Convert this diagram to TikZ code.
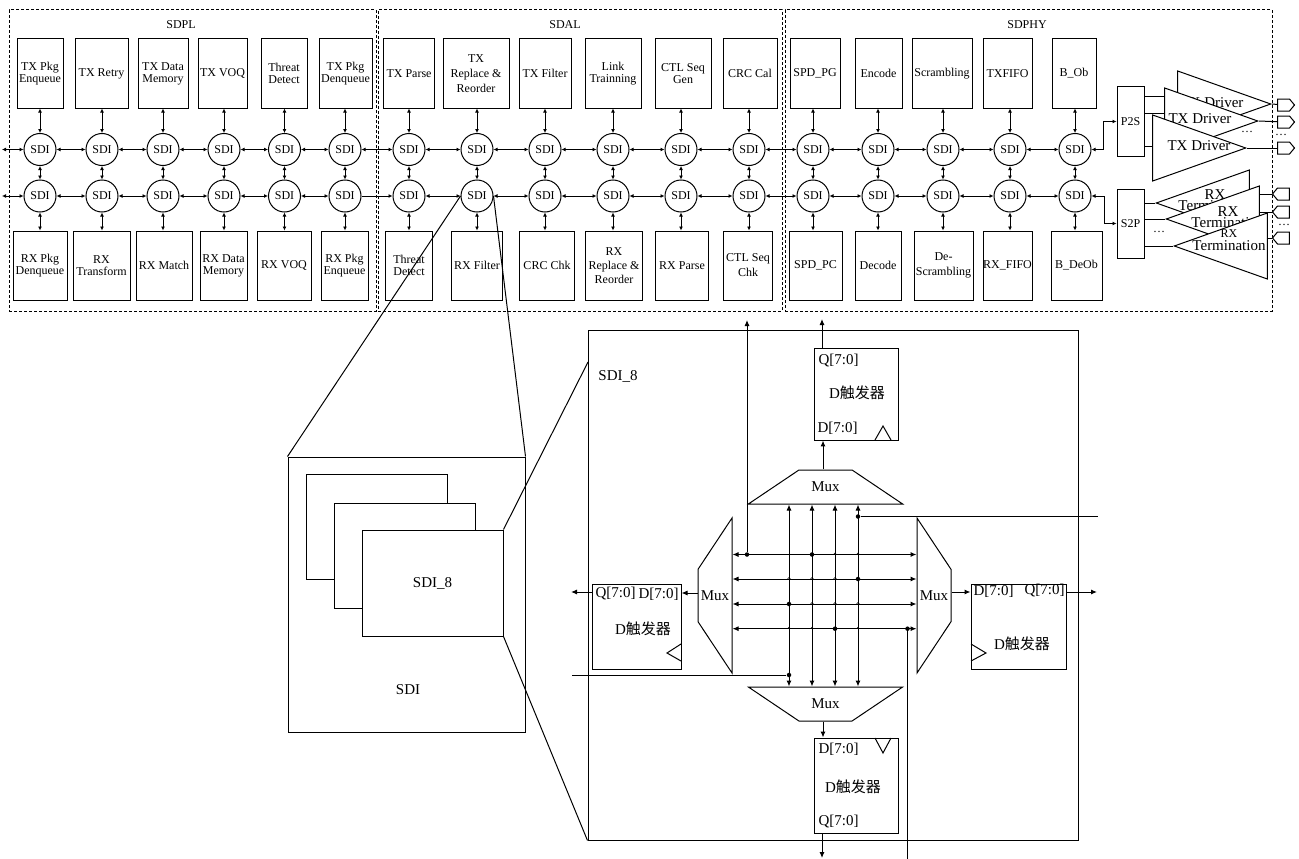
\documentclass[tikz,border=0pt]{standalone}
\usepackage{fontspec}
\setmainfont{Liberation Serif}
\newfontfamily\cjk{Noto Sans CJK SC}
\usetikzlibrary{arrows.meta,shapes.geometric,shapes.symbols}
\tikzset{
  box/.style={draw, align=center, font=\fontsize{12}{12}\selectfont, inner sep=0pt, minimum height=69pt, fill=white},
  sdi/.style={draw, circle, font=\fontsize{12}{12}\selectfont, inner sep=0pt, minimum size=32pt, fill=white},
  frame/.style={draw, densely dashed, inner sep=0pt, minimum height=301pt},
  title/.style={font=\fontsize{12}{12}\selectfont, inner sep=0pt},
  lbl/.style={font=\fontsize{15}{11}\selectfont, inner sep=0pt},
  tri/.style={draw, fill=white, isosceles triangle, isosceles triangle stretches, inner sep=0pt, minimum width=66pt, minimum height=93pt, anchor=apex},
  port/.style={draw, fill=white, signal, signal pointer angle=100, inner sep=0pt, minimum width=17pt, minimum height=12pt},
  mux/.style={draw, trapezium, trapezium stretches=true, minimum width=155pt, minimum height=34pt, inner sep=0pt, font=\fontsize{15}{15}\selectfont},
  muxh/.style={mux, trapezium left angle=20.3, trapezium right angle=20.3},
  muxv/.style={mux, trapezium left angle=71, trapezium right angle=71},
  flop/.style={draw, inner sep=0pt},
  dotmark/.style={fill, circle, inner sep=0pt, minimum size=4.5pt},
  arr/.style={{Latex[length=4pt,width=4pt]}-{Latex[length=4pt,width=4pt]}},
  arrs/.style={-{Latex[length=4pt,width=4pt]}},
  arrb/.style={-{Latex[length=6pt,width=5pt]}},
  arrd/.style={{Latex[length=6pt,width=5pt]}-{Latex[length=6pt,width=5pt]}}
}
\begin{document}
\begin{tikzpicture}[x=1pt, y=-1pt, line width=1pt]
\useasboundingbox (0,0) rectangle (1299,859);
% layer frames
\node[frame, minimum width=367pt] (sdpl) at (192.5,160.5) {};
\node[frame, minimum width=404pt] (sdal) at (580,160.5) {};
\node[frame, minimum width=487pt] (sdphy) at (1028.5,160.5) {};
\node[title] (sdpltext) at (181,25) {SDPL};
\node[title] (sdaltext) at (565,25) {SDAL};
\node[title] (sdphytext) at (1027,25) {SDPHY};
% tx boxes
\node[box, minimum width=46pt] (t1) at (40,73.5) {TX Pkg\\Enqueue};
\node[box, minimum width=53pt] (t2) at (101.5,73.5) {TX Retry};
\node[box, minimum width=50pt] (t3) at (163,73.5) {TX Data\\Memory};
\node[box, minimum width=49pt] (t4) at (222.5,73.5) {TX VOQ};
\node[box, minimum width=46pt] (t5) at (284,73.5) {Threat\\Detect};
\node[box, minimum width=53pt] (t6) at (345.5,73.5) {TX Pkg\\Denqueue};
\node[box, minimum width=51pt] (t7) at (409,73.5) {TX Parse};
\node[box, minimum width=66pt, font=\fontsize{12}{15}\selectfont] (t8) at (476,73.5) {TX\\Replace \&\\Reorder};
\node[box, minimum width=52pt] (t9) at (545,73.5) {TX Filter};
\node[box, minimum width=56pt] (t10) at (613,73.5) {Link\\Trainning};
\node[box, minimum width=56pt] (t11) at (683,73.5) {CTL Seq\\Gen};
\node[box, minimum width=54pt] (t12) at (750,73.5) {CRC Cal};
\node[box, minimum width=50pt] (t13) at (815,73.5) {SPD\_PG};
\node[box, minimum width=47pt] (t14) at (878.5,73.5) {Encode};
\node[box, minimum width=60pt] (t15) at (942,73.5) {Scrambling};
\node[box, minimum width=49pt] (t16) at (1007.5,73.5) {TXFIFO};
\node[box, minimum width=44pt] (t17) at (1074,73.5) {B\_Ob};
% rx boxes
\node[box, minimum width=54pt] (r1) at (40,265.5) {RX Pkg\\Denqueue};
\node[box, minimum width=57pt] (r2) at (101.5,265.5) {RX\\Transform};
\node[box, minimum width=56pt] (r3) at (164,265.5) {RX Match};
\node[box, minimum width=47pt] (r4) at (223.5,265.5) {RX Data\\Memory};
\node[box, minimum width=54pt] (r5) at (284,265.5) {RX VOQ};
\node[box, minimum width=47pt] (r6) at (344.5,265.5) {RX Pkg\\Enqueue};
\node[box, minimum width=47pt] (r7) at (409,265.5) {Threat\\Detect};
\node[box, minimum width=51pt] (r8) at (477,265.5) {RX Filter};
\node[box, minimum width=55pt] (r9) at (547,265.5) {CRC Chk};
\node[box, minimum width=57pt, font=\fontsize{12}{14}\selectfont] (r10) at (614,265.5) {RX\\Replace \&\\Reorder};
\node[box, minimum width=53pt] (r11) at (682,265.5) {RX Parse};
\node[box, minimum width=49pt, font=\fontsize{12}{15}\selectfont] (r12) at (748,265.5) {CTL Seq\\Chk};
\node[box, minimum width=53pt] (r13) at (815.5,265.5) {SPD\_PC};
\node[box, minimum width=46pt] (r14) at (878,265.5) {Decode};
\node[box, minimum width=59pt, font=\fontsize{12}{15}\selectfont] (r15) at (943.5,265.5) {De-\\Scrambling};
\node[box, minimum width=49pt] (r16) at (1007.5,265.5) {RX\_FIFO};
\node[box, minimum width=51pt] (r17) at (1076.5,265.5) {B\_DeOb};
% sdi grid
\foreach \cx [count=\i] in {40,102,163,224,284.5,345,409,477,545,613,681,749,813,878,943,1010,1075} {
  \node[sdi] (a\i) at (\cx,149.5) {SDI};
  \node[sdi] (b\i) at (\cx,196) {SDI};
  \draw[arr] (t\i.south -| a\i) -- (a\i);
  \draw[arr] (a\i) -- (b\i);
  \draw[arr] (b\i) -- (r\i.north -| b\i);
}
\foreach \i [evaluate=\i as \j using int(\i+1)] in {1,...,16} {
  \draw[arr] (a\i) -- (a\j);
}
\foreach \i [evaluate=\i as \j using int(\i+1)] in {1,2,3,4,5,7,8,9,10,11,12,13,14,15,16} {
  \draw[arr] (b\i) -- (b\j);
}
\draw[arrs] (b6) -- (b7);
\coordinate (ina) at (2,149.5);
\coordinate (inb) at (2,196);
\draw[arr] (ina) -- (a1);
\draw[arr] (inb) -- (b1);
% serdes
\node[box, minimum width=27pt] (p2s) at (1130.5,121.5) {P2S};
\node[box, minimum width=27pt] (s2p) at (1130.5,223.5) {S2P};
\draw[arr] (a17.east) -- ++(12,0) |- (p2s.west);
\draw[arr] (b17.east) -- ++(13,0) |- (s2p.west);
\node[tri] (txc) at (1272,104) {};
\node[lbl] (txctext) at (1212,103) {TX Driver};
\node[tri] (txb) at (1259,121) {};
\node[lbl] (txbtext) at (1200,119) {TX Driver};
\node[tri] (txa) at (1247,148) {};
\node[lbl] (txatext) at (1199,146) {TX Driver};
\node[tri, shape border rotate=180] (rxc) at (1155,203) {};
\node[lbl, align=center] (rxctext) at (1215,200.5) {RX\\Termination};
\node[tri, shape border rotate=180] (rxb) at (1165,219) {};
\node[lbl, align=center] (rxbtext) at (1228,217.5) {RX\\Termination};
\node[tri, shape border rotate=180] (rxa) at (1173,246) {};
\node[lbl, align=center, font=\fontsize{15}{13}\selectfont] (rxatext) at (1229,240.5) {{\fontsize{12}{13}\selectfont RX}\\Termination};
\node[title] (txdots) at (1247,132) {\dots};
\node[title] (rxdots) at (1159,232) {\dots};
\node[title] (txpdots) at (1281,135) {\dots};
\node[title] (rxpdots) at (1284,225) {\dots};
\draw (p2s.east |- txc.apex) ++(0,-8) -- (txb.west |- 0,96);
\draw (p2s.east |- 0,113) -- (txb.west |- 0,113);
\draw (p2s.east |- 0,146) -- (txa.west |- 0,146);
\draw (s2p.east |- rxc.apex) -- (rxc.apex);
\draw (s2p.east |- rxb.apex) -- (rxb.apex);
\draw (s2p.east |- rxa.apex) -- (rxa.apex);
\node[port, signal to=east] (oc) at (1283.5,105) {};
\node[port, signal to=east] (ob) at (1283.5,122) {};
\node[port, signal to=east] (oa) at (1283.5,148) {};
\node[port, signal to=west] (ic) at (1283.5,194) {};
\node[port, signal to=west] (ib) at (1283.5,212) {};
\node[port, signal to=west] (ia) at (1283.5,238) {};
\draw (txc.apex) -- (oc);
\draw (txb.apex) -- (ob);
\draw (txa.apex) -- (oa);
\draw (rxb.east |- ic) -- (ic);
\draw (rxb.east |- ib) -- (ib);
\draw (rxa.east |- ia) -- (ia);
% zoom of one sdi
\node[draw, minimum width=490pt, minimum height=510pt, inner sep=0pt] (big) at (833,585) {};
\node[lbl] (bigtext) at (618,376) {SDI\_8};
\node[draw, minimum width=237pt, minimum height=275pt, inner sep=0pt] (outer) at (406.5,594.5) {};
\node[lbl] (outertext) at (408,690) {SDI};
\node[draw, fill=white, minimum width=141pt, minimum height=105pt, inner sep=0pt] (pc) at (376.5,526.5) {};
\node[draw, fill=white, minimum width=141pt, minimum height=105pt, inner sep=0pt] (pb) at (404.5,555.5) {};
\node[draw, fill=white, minimum width=141pt, minimum height=106pt, inner sep=0pt, font=\fontsize{15}{15}\selectfont] (pa) at (432.5,583) {SDI\_8};
\coordinate (zoomtop) at (588,362);
\draw (b8.west) -- (outer.north west);
\draw (b8.east) -- (outer.north east);
\draw (pa.north east) -- (zoomtop);
\draw (pa.south east) -- (big.south west);
% mux
\node[muxh] (muxt) at (825.5,487) {Mux};
\node[muxh, shape border rotate=180] (muxb) at (825.5,704) {Mux};
\node[muxv, shape border rotate=90] (muxl) at (715,595.5) {Mux};
\node[muxv, shape border rotate=270] (muxr) at (934,595.5) {Mux};
% flops
\node[flop, minimum width=84pt, minimum height=92pt] (ft) at (856,394) {};
\node[lbl, anchor=west] (ftq) at (818,361) {Q[7:0]};
\node[lbl] (ftc) at (857,393) {D{\cjk 触发器}};
\node[lbl, anchor=west] (ftd) at (817,428) {D[7:0]};
\draw (875,440) -- (883,426) -- (891,440);
\node[flop, minimum width=84pt, minimum height=95pt] (fb) at (856,785.5) {};
\node[lbl, anchor=west] (fbd) at (818,749) {D[7:0]};
\node[lbl] (fbc) at (853,787) {D{\cjk 触发器}};
\node[lbl, anchor=west] (fbq) at (818,822) {Q[7:0]};
\draw (875,738) -- (883,753) -- (891,738);
\node[flop, minimum width=89pt, minimum height=85pt] (fl) at (636.5,626.5) {};
\node[lbl, anchor=west] (flq) at (595,594) {Q[7:0]};
\node[lbl, anchor=east] (fld) at (679,594) {D[7:0]};
\node[lbl] (flc) at (643,629) {D{\cjk 触发器}};
\draw (681,644) -- (667,653) -- (681,661);
\node[flop, minimum width=95pt, minimum height=85pt] (fr) at (1018.5,626.5) {};
\node[lbl, anchor=west] (frd) at (973,591) {D[7:0]};
\node[lbl, anchor=east] (frq) at (1065,591) {Q[7:0]};
\node[lbl] (frc) at (1022,644) {D{\cjk 触发器}};
\draw (971,644) -- (986,653) -- (971,661);
\coordinate (ftout) at (822,319);
\coordinate (fbout) at (822,858);
\coordinate (flout) at (571,592);
\coordinate (frout) at (1097,592);
\draw[arrb] (muxt.north) ++(-2.5,0) -- ++(0,-29);
\draw[arrb] (ft.north) ++(-34,0) -- (ftout);
\draw[arrb] (muxb.south) ++(-2.5,0) -- ++(0,16);
\draw[arrb] (fb.south) ++(-34,0) -- (fbout);
\draw[arrb] (muxl.west |- 0,593) -- (fl.east |- 0,593);
\draw[arrb] (fl.west |- flout) -- (flout);
\draw[arrb] (muxr.east |- 0,592) -- (fr.west |- 0,592);
\draw[arrb] (fr.east |- frout) -- (frout);
% crossbar
\foreach \vx [count=\k] in {789,812,835,858} {
  \coordinate (v\k) at (\vx,0);
  \draw[arrd] (v\k |- muxt.south) -- (v\k |- muxb.north);
}
\foreach \hy [count=\k] in {554.5,579,604,628.7} {
  \coordinate (h\k) at (0,\hy);
  \draw[arrd] (muxl.east |- h\k) -- (muxr.west |- h\k);
}
\foreach \k/\m in {2/1,3/1,4/1,1/2,2/2,3/2,2/3,3/3,4/3,1/4,2/4,4/4} {
  \draw[line width=0.5pt] (v\k |- h\m) ++(-1.5,0) arc (180:360:1.5);
}
\node[dotmark] (d1) at (v2 |- h1) {};
\node[dotmark] (d2) at (v4 |- h2) {};
\node[dotmark] (d3) at (v1 |- h3) {};
\node[dotmark] (d4) at (v3 |- h4) {};
% feeds
\node[dotmark] (fa) at (747,554.5) {};
\node[dotmark] (fb1) at (858,516.5) {};
\node[dotmark] (fc) at (907.5,628.7) {};
\node[dotmark] (fd) at (789,675) {};
\coordinate (fatop) at (747,320);
\coordinate (fbend) at (1098,516.5);
\coordinate (fcend) at (907.5,859);
\coordinate (fdend) at (572,675);
\draw[arrb] (fa) -- (fatop);
\draw (fb1) -- (fbend);
\draw (fc) -- (fcend);
\draw (fd) -- (fdend);
\end{tikzpicture}
\end{document}
